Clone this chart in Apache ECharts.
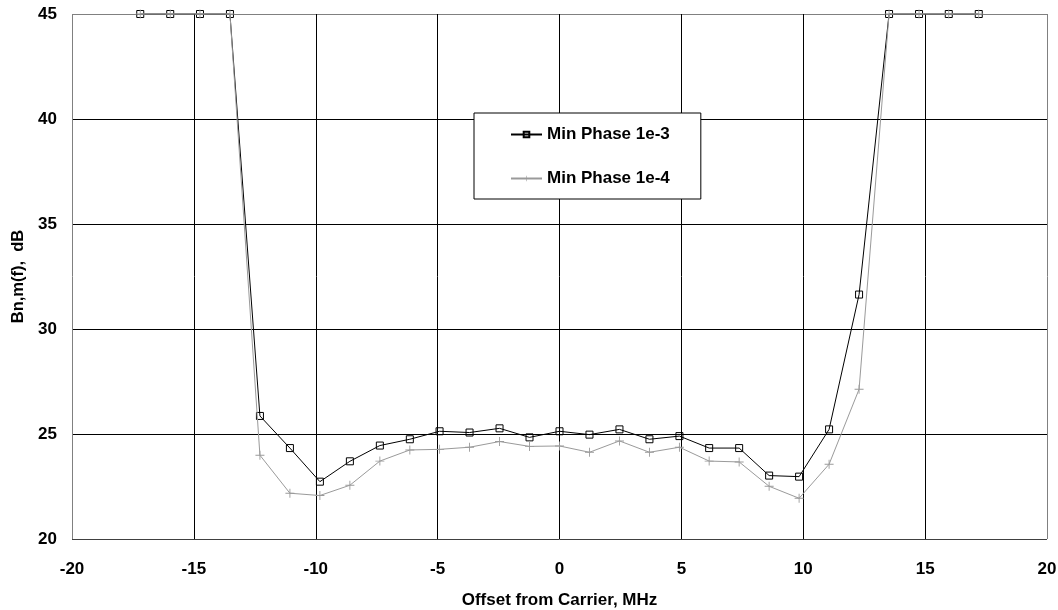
<!DOCTYPE html>
<html>
<head>
<meta charset="utf-8">
<script src="https://cdn.jsdelivr.net/npm/echarts@6/dist/echarts.min.js"></script>
<style>html,body{margin:0;padding:0;background:#fff}#c{width:1058px;height:610px}</style>
</head>
<body>
<div id="c"></div>
<script>
var offsets = [-17.2, -15.97, -14.75, -13.52, -12.29, -11.06, -9.83, -8.6, -7.37, -6.14, -4.92, -3.69, -2.46, -1.23, 0, 1.23, 2.46, 3.69, 4.92, 6.14, 7.37, 8.6, 9.83, 11.06, 12.29, 13.52, 14.75, 15.97, 17.2];
var phase1e3 = [45, 45, 45, 45, 25.86, 24.33, 22.73, 23.7, 24.45, 24.75, 25.13, 25.07, 25.27, 24.84, 25.13, 24.97, 25.22, 24.75, 24.9, 24.33, 24.33, 23.02, 22.97, 25.22, 31.64, 45, 45, 45, 45];
var phase1e4 = [45, 45, 45, 45, 23.99, 22.18, 22.07, 22.56, 23.71, 24.24, 24.27, 24.37, 24.64, 24.41, 24.43, 24.13, 24.67, 24.13, 24.37, 23.71, 23.67, 22.51, 21.94, 23.56, 27.13, 45, 45, 45, 45];
var seriesNames = ['Min Phase 1e-3', 'Min Phase 1e-4'];
var xTitle = 'Offset from Carrier, MHz';
var yTitle = 'Bn,m(f),  dB';

function pairs(xs, ys) { return xs.map(function (x, i) { return [x, ys[i]]; }); }

var font = 'Liberation Sans, Arial, sans-serif';
var chart = echarts.init(document.getElementById('c'), null, { renderer: 'canvas' });
chart.setOption({
  animation: false,
  backgroundColor: '#fff',
  grid: { left: 72, right: 11, top: 14, bottom: 71, containLabel: false, outerBoundsMode: 'none' },
  legend: {
    orient: 'vertical',
    left: 474, top: 113,
    padding: [13, 31, 12, 36],
    itemWidth: 31, itemHeight: 7, itemGap: 27,
    backgroundColor: '#fff',
    borderColor: '#000', borderWidth: 1, borderRadius: 0,
    textStyle: { fontFamily: font, fontSize: 17, fontWeight: 'bold', color: '#000' },
    data: seriesNames
  },
  xAxis: {
    type: 'value', min: -20, max: 20, interval: 5,
    name: xTitle, nameLocation: 'middle', nameGap: 53,
    nameTextStyle: { fontFamily: font, fontSize: 17, fontWeight: 'bold', color: '#000' },
    axisLine: { show: false }, axisTick: { show: false },
    axisLabel: { margin: 22, fontFamily: font, fontSize: 17, fontWeight: 'bold', color: '#000' },
    splitLine: { show: true, lineStyle: { width: 1, color: ['#808080', '#000', '#000', '#000', '#000', '#000', '#000', '#000', '#808080'] } }
  },
  yAxis: {
    type: 'value', min: 20, max: 45, interval: 5,
    name: yTitle, nameLocation: 'middle', nameGap: 45, nameRotate: 90,
    nameTextStyle: { fontFamily: font, fontSize: 16.5, fontWeight: 'bold', color: '#000' },
    axisLine: { show: false }, axisTick: { show: false },
    axisLabel: { margin: 15, fontFamily: font, fontSize: 17, fontWeight: 'bold', color: '#000' },
    splitLine: { show: true, lineStyle: { width: 1, color: ['#404040', '#000', '#000', '#000', '#000', '#808080'] } }
  },
  series: [
    {
      name: seriesNames[0], type: 'line', data: pairs(offsets, phase1e3),
      clip: false, symbol: 'rect', symbolSize: 7, showAllSymbol: true,
      lineStyle: { color: '#000', width: 1 },
      itemStyle: { color: 'rgba(0,0,0,0)', borderColor: '#000', borderWidth: 1 },
      emphasis: { disabled: true }, z: 3
    },
    {
      name: seriesNames[1], type: 'line', data: pairs(offsets, phase1e4),
      clip: false, symbol: 'path://M4.5,0h1v10h-1zM0,4.5h10v1h-10z', symbolSize: 9, showAllSymbol: true,
      lineStyle: { color: '#9a9a9a', width: 1 },
      itemStyle: { color: '#9a9a9a' },
      emphasis: { disabled: true }, z: 4
    }
  ]
});
</script>
</body>
</html>
